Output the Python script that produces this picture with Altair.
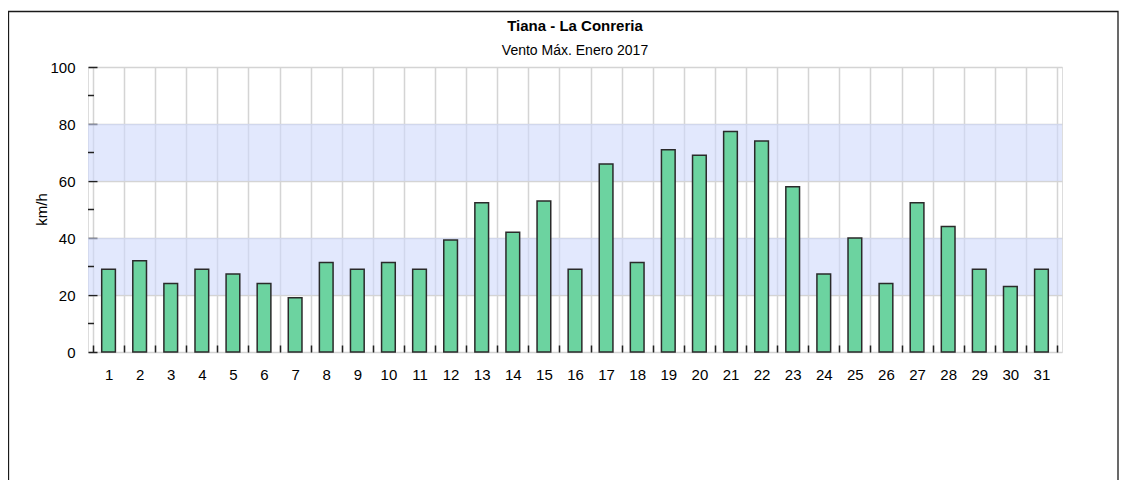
import altair as alt
import pandas as pd

days = list(range(1, 32))
wind = [29, 32, 24, 29, 27.4, 24, 19, 31.4, 29, 31.4, 29, 39.3, 52.4, 42, 53, 29,
        66, 31.4, 71, 69, 77.4, 74, 58, 27.4, 40, 24, 52.4, 44, 29, 23, 29]
band_lo = [20, 60]
band_hi = [40, 80]
minor_ticks = [10, 30, 50, 70, 90]
y_major = [0, 20, 40, 60, 80, 100]
x_bounds = [d + 0.5 for d in range(0, 32)]

W, H = 974, 285

df = pd.DataFrame({"day": days, "wind": wind})
bands = pd.DataFrame({"lo": band_lo, "hi": band_hi})
minor = pd.DataFrame({"v": minor_ticks})

xscale = alt.Scale(domain=[0.5, 31.5], nice=False, zero=False)
yscale = alt.Scale(domain=[0, 100], nice=False)

FONT = "Liberation Sans"

xaxis = alt.Axis(
    values=days + x_bounds,
    labelExpr="datum.value % 1 == 0 ? '' + datum.value : ''",
    grid=True,
    gridColor="#d4d4d4",
    gridWidth=1.5,
    gridOpacity=alt.condition("datum.value % 1 == 0", alt.value(0), alt.value(1)),
    tickOpacity=alt.condition("datum.value % 1 == 0", alt.value(0), alt.value(1)),
    tickSize=alt.ExprRef("-7"),
    tickColor="#222222",
    tickWidth=1.5,
    labelPadding=22,
    labelFont=FONT,
    labelFontSize=15,
    labelColor="#000000",
    labelOverlap=False,
    labelFlush=False,
    domain=False,
    title=None,
)

yaxis = alt.Axis(
    values=y_major,
    grid=True,
    gridColor="#d4d4d4",
    gridWidth=1.5,
    tickSize=alt.ExprRef("-9"),
    tickColor="#222222",
    tickWidth=1.5,
    labelPadding=22,
    labelFont=FONT,
    labelFontSize=15,
    labelColor="#000000",
    domain=False,
    title="km/h",
    titleFont=FONT,
    titleFontSize=15,
    titleFontWeight="normal",
    titleColor="#000000",
    titleAngle=270,
    titleX=-47,
    titleY=142,
    titleAlign="center",
    titleBaseline="middle",
)

band_layer = alt.Chart(bands).mark_rect(fill="#cfd9fb", opacity=0.6).encode(
    x=alt.value(0),
    x2=alt.value(W),
    y=alt.Y("lo:Q", scale=yscale, axis=yaxis),
    y2="hi:Q",
)

bars = alt.Chart(df).mark_bar(
    width=13.7, fill="#6cd3a0", stroke="#2a2a2a", strokeWidth=1.5
).encode(
    x=alt.X("day:Q", scale=xscale, axis=xaxis),
    y=alt.Y("wind:Q", scale=yscale),
)

minor_layer = alt.Chart(minor).mark_rule(color="#222222", strokeWidth=1.5).encode(
    y=alt.Y("v:Q", scale=yscale),
    x=alt.value(0),
    x2=alt.value(6),
)

frame = alt.Chart(pd.DataFrame({"k": [0]})).mark_rect(
    fill=None, fillOpacity=0, stroke="#1a1a1a", strokeWidth=1.3
).encode(
    x=alt.value(-79.5),
    x2=alt.value(1030),
    y=alt.value(-55.5),
    y2=alt.value(700),
)

chart = alt.layer(frame, band_layer, bars, minor_layer).properties(
    width=W,
    height=H,
    autosize=alt.AutoSizeParams(type="none"),
    padding={"left": 80, "top": 59, "right": 58, "bottom": 128},
    title=alt.TitleParams(
        "Tiana - La Conreria",
        subtitle="Vento Máx. Enero 2017",
        font=FONT,
        fontSize=15,
        fontWeight="bold",
        color="#000000",
        subtitleFont=FONT,
        subtitleFontSize=14,
        subtitleColor="#000000",
        subtitlePadding=10,
        anchor="middle",
        offset=0,
        dy=47,
    ),
).configure_view(
    fill="#f3f3f3", stroke="#333333", strokeWidth=1.5
).configure(background="white")

chart.save("out.html", embed_options={"renderer": "svg", "actions": False})
